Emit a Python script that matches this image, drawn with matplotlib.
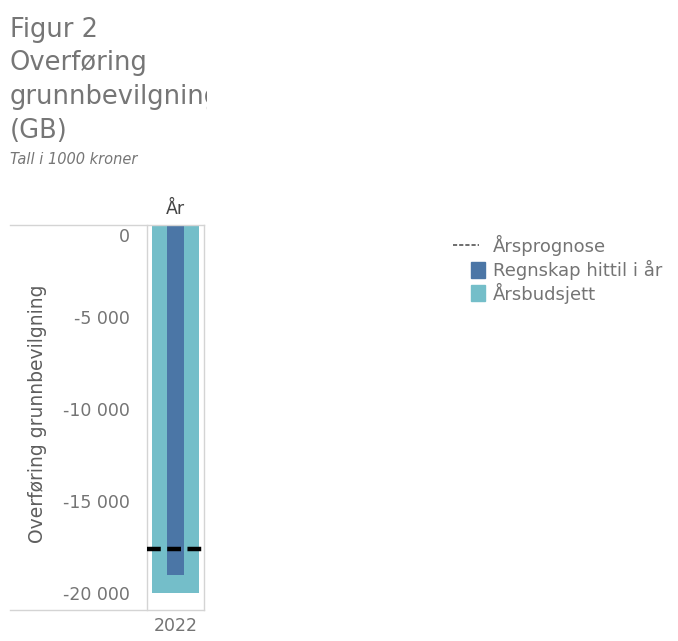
"""Figur 2: Overføring grunnbevilgning (GB), Tableau-style single bar chart."""
import matplotlib.pyplot as plt
from matplotlib.lines import Line2D
from matplotlib.patches import Rectangle
from matplotlib.transforms import ScaledTranslation

# ------------------ DATA ------------------ #
YEARS = ["2022"]
BUDGET = [-20000]  # Årsbudsjett
ACCOUNTS = [-19000]  # Regnskap hittil i år
FORECAST = [-17600]  # Årsprognose
Y_TICKS = [0, -5000, -10000, -15000, -20000]
Y_TICK_LABELS = ["0", "-5 000", "-10 000", "-15 000", "-20 000"]
LEGEND_LABELS = ["Årsprognose", "Regnskap hittil i år", "Årsbudsjett"]
# ---------------- END DATA ---------------- #

DARK = "#4b76a6"
LIGHT = "#74bec9"
TEXT = "#747474"
GRID = "#d4d4d4"
plt.rcParams["font.family"] = ["DejaVu Sans"]

W, H = 678, 641
fig = plt.figure(figsize=(W / 100, H / 100), dpi=100)


def fx(px):
    return px / W


def fy(px):
    return 1 - px / H


# Title block, clipped at the right like in the dashboard
title_ax = fig.add_axes([0, fy(185), fx(207), fy(0) - fy(185)])
title_ax.axis("off")
title_ax.set_xlim(0, 207)
title_ax.set_ylim(185, 0)
for i, line in enumerate(["Figur 2", "Overføring", "grunnbevilgning", "(GB)"]):
    title_ax.text(10, 30 + i * 33.5, line, fontsize=18.5, color="#767676",
                  va="center", ha="left", clip_on=True)
title_ax.text(10, 160, "Tall i 1000 kroner", fontsize=10.5, style="italic",
              color="#767676", va="center", ha="left", clip_on=True)

# Main axes
ax = fig.add_axes([fx(147), fy(610), fx(204) - fx(147), fy(225) - fy(610)])
x = range(len(YEARS))
ax.bar(x, BUDGET, width=0.84, color=LIGHT, zorder=1)
ax.bar(x, ACCOUNTS, width=0.3, color=DARK, zorder=2)
for i, v in enumerate(FORECAST):
    ax.plot([i - 0.5, i + 0.5], [v, v], color="black", lw=3.2,
            dashes=(3.1, 1.45), solid_capstyle="butt", dash_capstyle="butt",
            zorder=3)
ax.set_xlim(-0.5, len(YEARS) - 0.5)
ax.set_ylim(-20900, 0)
ax.set_yticks(Y_TICKS)
ax.set_yticklabels(Y_TICK_LABELS)
ax.set_xticks(list(x))
ax.set_xticklabels(YEARS)
ax.tick_params(axis="both", length=0, labelsize=12.5, colors=TEXT)
ax.tick_params(axis="y", pad=12)
ax.tick_params(axis="x", pad=5)
zero = ax.get_yticklabels()[0]
zero.set_transform(zero.get_transform()
                   + ScaledTranslation(0, -0.1, fig.dpi_scale_trans))
for side in ["left", "right"]:
    ax.spines[side].set_color(GRID)
    ax.spines[side].set_linewidth(1)
ax.spines["top"].set_visible(False)
ax.spines["bottom"].set_visible(False)

fig.text(fx(38), fy(414), "Overføring grunnbevilgning", rotation=90,
         fontsize=13.5, color="#5e5e5e", ha="center", va="center")

# Horizontal rules across tick label area and plot
for py in (225, 610):
    fig.add_artist(Line2D([fx(10), fx(204)], [fy(py), fy(py)], color=GRID, lw=1))

fig.text(fx(175), fy(209), "År", fontsize=12.5, color="#444444",
         ha="center", va="center")

# Legend, laid out by hand to follow the dashboard
rows = [245, 270, 293]
fig.add_artist(Line2D([fx(453), fx(479)], [fy(rows[0]), fy(rows[0])],
                      color="#555555", lw=1.2, ls=(0, (2.5, 1.2))))
for py, color in zip(rows[1:], [DARK, LIGHT]):
    fig.add_artist(Rectangle((fx(471), fy(py + 8)), fx(14), fy(py - 8) - fy(py + 8),
                             color=color, transform=fig.transFigure))
for py, label in zip(rows, LEGEND_LABELS):
    fig.text(fx(493), fy(py), label, fontsize=13, color=TEXT,
             ha="left", va="center")

fig.savefig("out.png", dpi=100)
